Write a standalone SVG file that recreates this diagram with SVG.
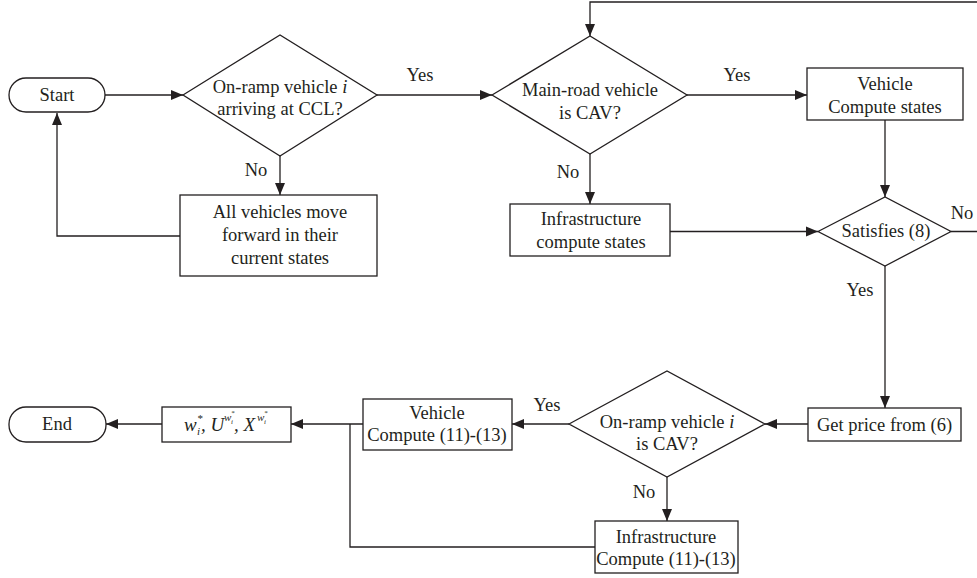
<svg xmlns="http://www.w3.org/2000/svg" width="977" height="578" viewBox="0 0 977 578">
<style>
.s{fill:#fff;stroke:#231f20;stroke-width:1.3}
.c{fill:none;stroke:#231f20;stroke-width:1.3}
.t{font-family:"Liberation Serif","Times New Roman",serif;font-size:18.5px;fill:#231f20;text-anchor:middle}
.l{font-family:"Liberation Serif","Times New Roman",serif;font-size:18.5px;fill:#231f20;text-anchor:middle}
.f{font-family:"Liberation Serif","Times New Roman",serif;font-style:italic;fill:#231f20}
</style>
<defs>
<marker id="a" markerUnits="userSpaceOnUse" markerWidth="12" markerHeight="12" viewBox="0 0 12 12" refX="12" refY="6" orient="auto">
<path d="M0,1 L12,6 L0,11 Z" fill="#231f20"/>
</marker>
</defs>
<rect width="977" height="578" fill="#fff"/>
<g id="connectors">
<path class="c" d="M105,95 H183" marker-end="url(#a)"/>
<path class="c" d="M377,95 H492" marker-end="url(#a)"/>
<path class="c" d="M280,156 V195" marker-end="url(#a)"/>
<path class="c" d="M180,236 H57 V113" marker-end="url(#a)"/>
<path class="c" d="M687,95 H807" marker-end="url(#a)"/>
<path class="c" d="M590,154 V204" marker-end="url(#a)"/>
<path class="c" d="M885,120 V197" marker-end="url(#a)"/>
<path class="c" d="M670,231.5 H818" marker-end="url(#a)"/>
<path class="c" d="M951,231.5 H978 V2 H590 V36" marker-end="url(#a)"/>
<path class="c" d="M885,266 V408" marker-end="url(#a)"/>
<path class="c" d="M808,424 H765" marker-end="url(#a)"/>
<path class="c" d="M569,424 H512" marker-end="url(#a)"/>
<path class="c" d="M667,477 V521" marker-end="url(#a)"/>
<path class="c" d="M363,424 H291" marker-end="url(#a)"/>
<path class="c" d="M595,547 H350 V424"/>
<path class="c" d="M162,424 H106" marker-end="url(#a)"/>
<text class="l" x="420" y="81">Yes</text>
<text class="l" x="256" y="176">No</text>
<text class="l" x="737" y="81">Yes</text>
<text class="l" x="568" y="178">No</text>
<text class="l" x="962" y="219">No</text>
<text class="l" x="860" y="296">Yes</text>
<text class="l" x="547" y="411">Yes</text>
<text class="l" x="644" y="498">No</text>
</g>
<g id="start">
<rect class="s" x="9" y="78" width="96" height="34" rx="17"/>
<text class="t" x="57" y="101">Start</text>
</g>
<g id="d1">
<polygon class="s" points="183,95 280,35 377,95 280,156"/>
<text class="t" x="280" y="93">On-ramp vehicle <tspan font-style="italic">i</tspan></text>
<text class="t" x="280" y="115">arriving at CCL?</text>
</g>
<g id="allmove">
<rect class="s" x="180" y="195" width="197" height="81"/>
<text class="t" x="280" y="218">All vehicles move</text>
<text class="t" x="280" y="241">forward in their</text>
<text class="t" x="280" y="264">current states</text>
</g>
<g id="d2">
<polygon class="s" points="492,95 590,36 687,95 590,154"/>
<text class="t" x="590" y="96">Main-road vehicle</text>
<text class="t" x="590" y="119">is CAV?</text>
</g>
<g id="vstates">
<rect class="s" x="807" y="68" width="156" height="52"/>
<text class="t" x="885" y="90">Vehicle</text>
<text class="t" x="885" y="113">Compute states</text>
</g>
<g id="istates">
<rect class="s" x="510" y="204" width="160" height="52"/>
<text class="t" x="591" y="225">Infrastructure</text>
<text class="t" x="591" y="248">compute states</text>
</g>
<g id="sat">
<polygon class="s" points="818,231.5 885,197 951,231.5 885,266"/>
<text class="t" x="886" y="237">Satisfies (8)</text>
</g>
<g id="price">
<rect class="s" x="808" y="408" width="153" height="33"/>
<text class="t" x="884.5" y="431">Get price from (6)</text>
</g>
<g id="d3">
<polygon class="s" points="569,424 667,371 765,424 667,477"/>
<text class="t" x="667" y="428">On-ramp vehicle <tspan font-style="italic">i</tspan></text>
<text class="t" x="667" y="450">is CAV?</text>
</g>
<g id="vcompute">
<rect class="s" x="363" y="399" width="149" height="51"/>
<text class="t" x="437" y="419">Vehicle</text>
<text class="t" x="437" y="441">Compute (11)-(13)</text>
</g>
<g id="icompute">
<rect class="s" x="595" y="521" width="143" height="52"/>
<text class="t" x="666" y="543">Infrastructure</text>
<text class="t" x="666" y="565">Compute (11)-(13)</text>
</g>
<g id="result">
<rect class="s" x="162" y="407" width="129" height="35"/>
<text class="f" font-size="19"><tspan x="184" y="431">w</tspan><tspan x="197" y="422" font-size="11">*</tspan><tspan x="197" y="435" font-size="11">i</tspan><tspan x="201" y="431" font-size="19">, U</tspan><tspan x="224" y="421" font-size="11">w</tspan><tspan x="231" y="424" font-size="7">i</tspan><tspan x="231" y="415" font-size="7">*</tspan><tspan x="234" y="431" font-size="19">, X</tspan><tspan x="257" y="421" font-size="11">w</tspan><tspan x="264" y="424" font-size="7">i</tspan><tspan x="264" y="415" font-size="7">*</tspan></text>
</g>
<g id="end">
<rect class="s" x="9" y="407" width="97" height="35" rx="17"/>
<text class="t" x="57" y="430">End</text>
</g>
</svg>
